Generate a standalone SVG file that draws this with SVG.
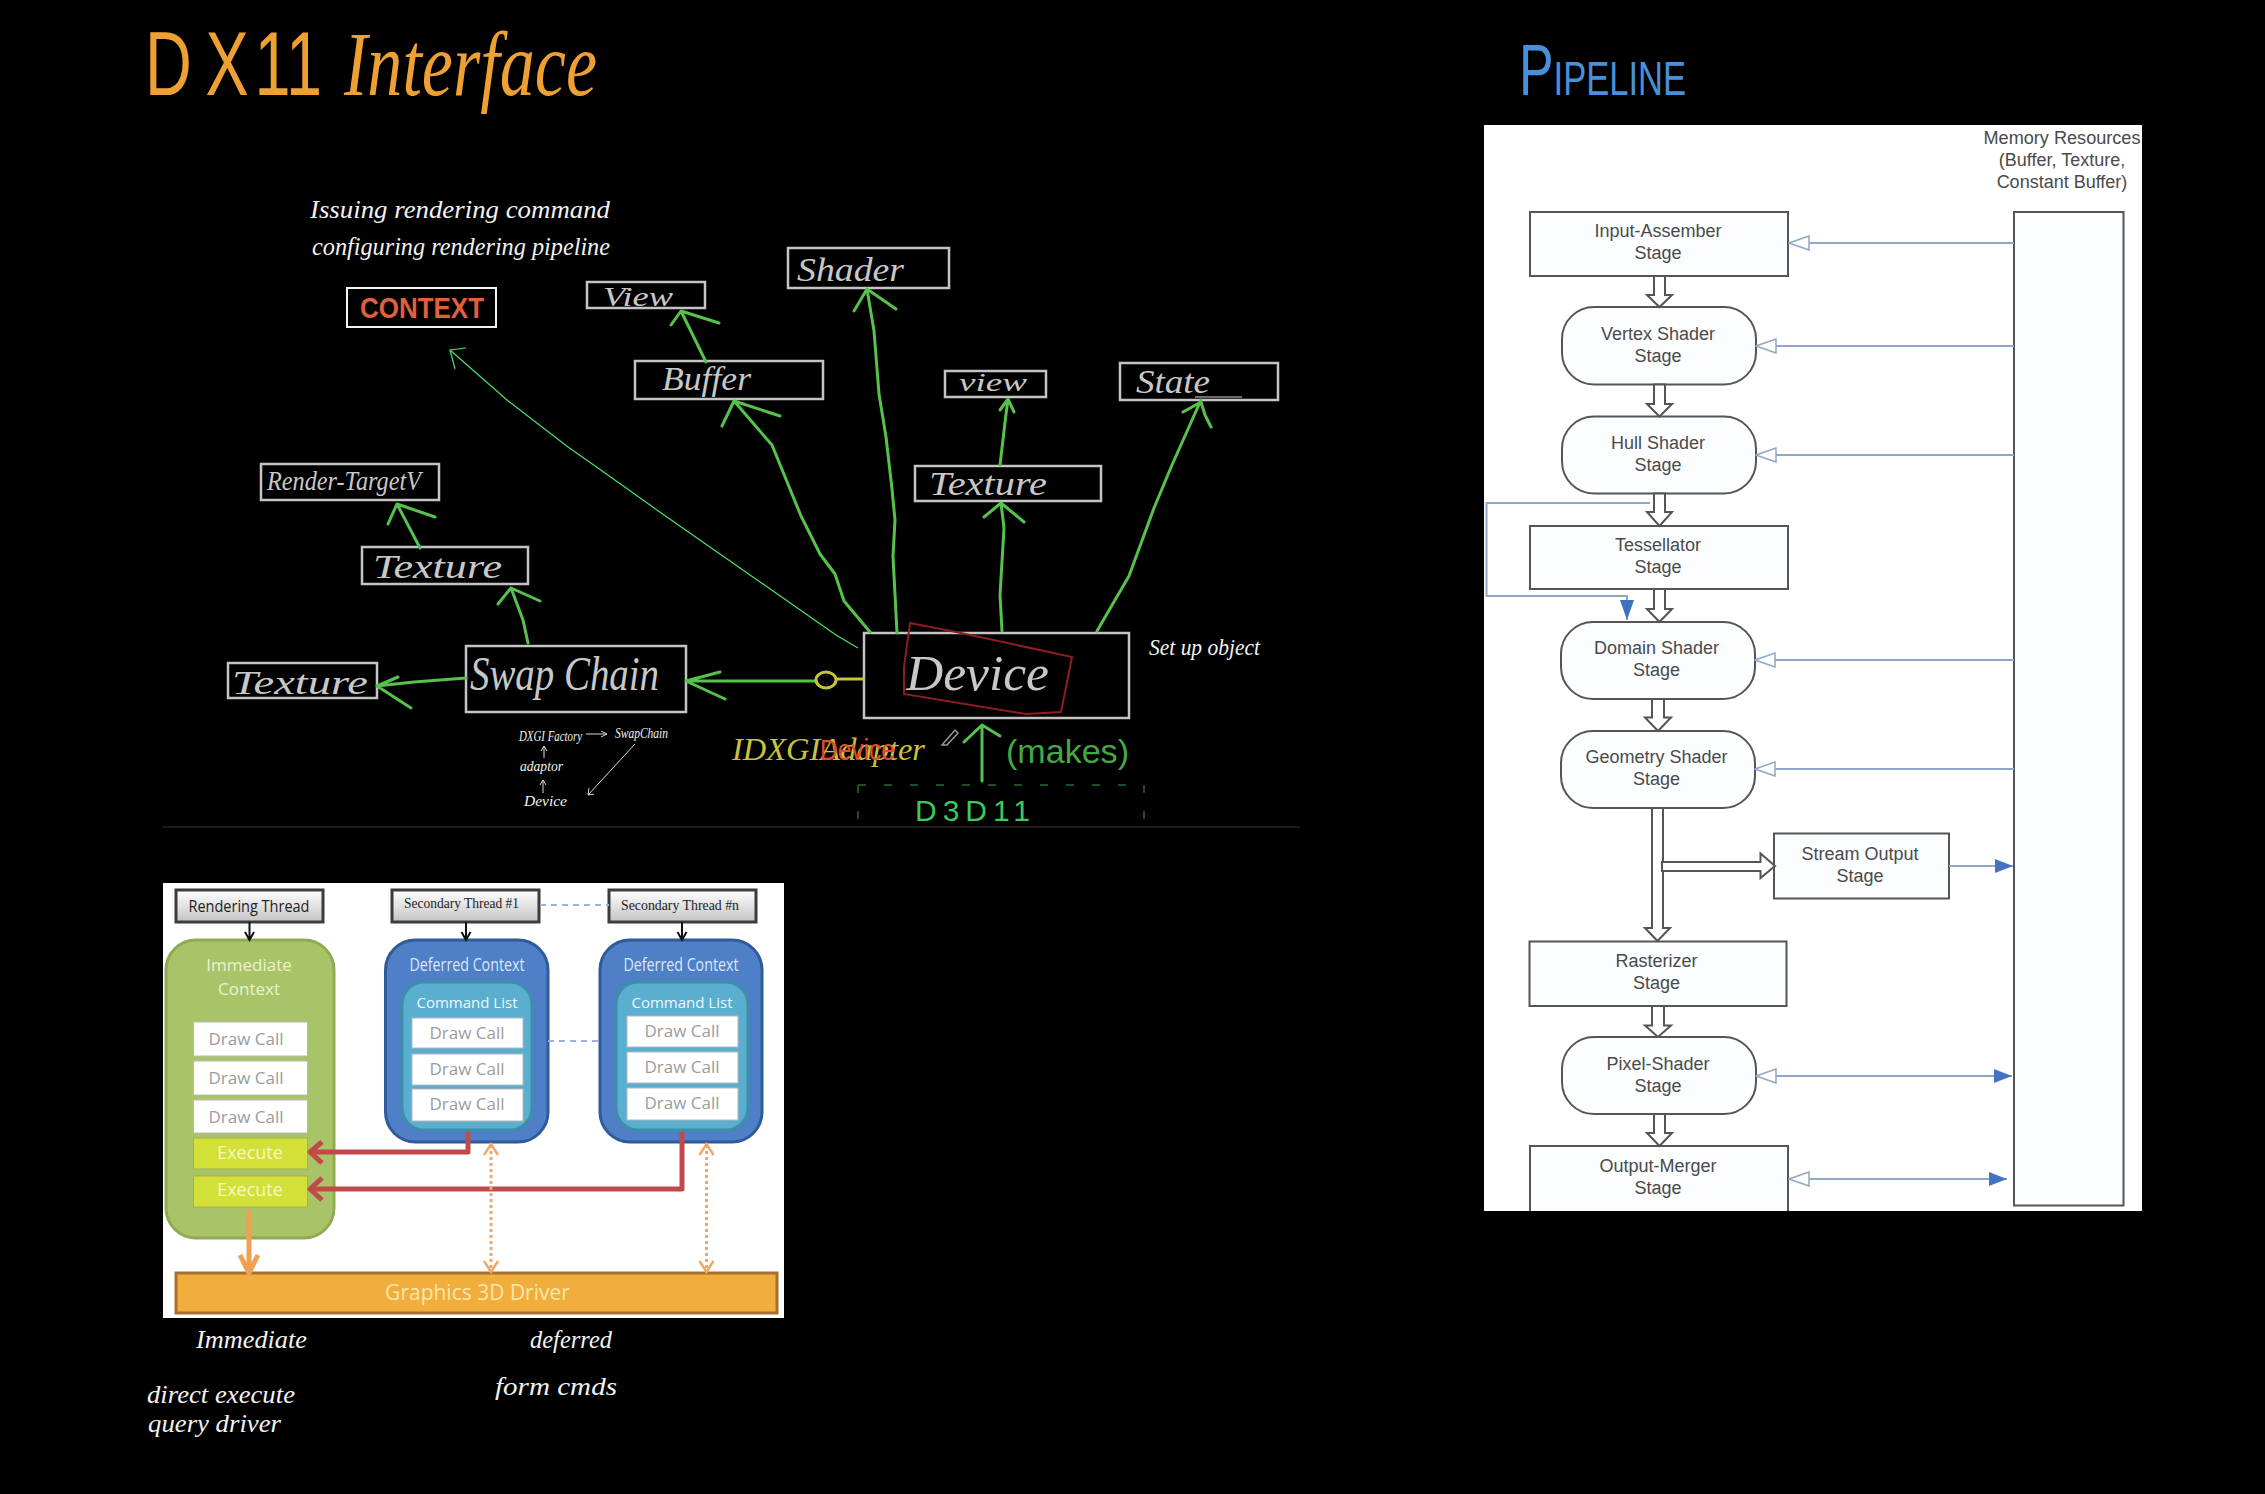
<svg xmlns="http://www.w3.org/2000/svg" width="2265" height="1494" viewBox="0 0 2265 1494">
<style>
.hand{font-family:"Liberation Serif",serif;font-style:italic;fill:#f2f2f2}
.box{fill:none;stroke:#c4c4c4;stroke-width:2.5}
.lbl{font-family:"Liberation Serif",serif;font-style:italic;fill:#c8c8c8}
.grn{fill:none;stroke:#56c24c;stroke-width:3;stroke-linecap:round;stroke-linejoin:round}
.thin{fill:none;stroke:#4fe06a;stroke-width:1.2}
.wl{fill:none;stroke:#d8d8d8;stroke-width:1}
.sans{font-family:"Open Sans","Liberation Sans",sans-serif;text-anchor:middle}
.call{fill:#fff;stroke:#b8b8b8;stroke-width:1}
.callt{fill:#9c9c9c;font-size:17px}
.exec{fill:#d3e038;stroke:#a9b050;stroke-width:1}
.exect{fill:#f5f9c0;font-size:18px}
.thr{fill:url(#thrGrad);stroke:#3c3c3c;stroke-width:3}
.ser{font-family:"Liberation Serif",serif;font-size:15px;fill:#222}
.def{fill:#4f7fc6;stroke:#2f5b99;stroke-width:3}
.inn{fill:#5aaed0;stroke:#3c8fa8;stroke-width:3}
.deft{fill:#dbe7f6;font-size:18px}
.clt{fill:#eef7fb;font-size:15px}
.red{fill:none;stroke:#c04a4a;stroke-width:5;stroke-linejoin:round}
.org{fill:none;stroke:#f0a050;stroke-width:5}
.dot{fill:none;stroke:#f0a868;stroke-width:3;stroke-dasharray:3 3}
.dhead{fill:none;stroke:#f0a868;stroke-width:2.5}
.blk{stroke:#111;stroke-width:2;fill:none}
.dash{stroke:#9ab4de;stroke-width:2;stroke-dasharray:6 5;fill:none}
.st{fill:#fbfdff;stroke:#555;stroke-width:2}
.stt{font-family:"Liberation Sans",sans-serif;font-size:18px;fill:#4a4a4a;text-anchor:middle}
.res{stroke:#8fa8c8;stroke-width:2;fill:none}
.flow{fill:#fff;stroke:#555;stroke-width:2}
</style>
<defs>
<linearGradient id="thrGrad" x1="0" y1="0" x2="0" y2="1"><stop offset="0" stop-color="#fff"/><stop offset="1" stop-color="#c4c4c4"/></linearGradient>
<marker id="hollow" viewBox="-1 -1 22 16" refX="20" refY="7" markerWidth="22" markerHeight="16" orient="auto-start-reverse" markerUnits="userSpaceOnUse"><path d="M0 0L20 7L0 14Z" fill="#fff" stroke="#8fa8c8" stroke-width="1.5"/></marker>
<marker id="solid" viewBox="0 0 18 14" refX="18" refY="7" markerWidth="18" markerHeight="14" orient="auto" markerUnits="userSpaceOnUse"><path d="M0 0L18 7L0 14Z" fill="#4472c4"/></marker>
<marker id="solidDown" viewBox="0 0 20 14" refX="20" refY="7" markerWidth="20" markerHeight="14" orient="auto" markerUnits="userSpaceOnUse"><path d="M0 0L20 7L0 14Z" fill="#3f6fbf"/></marker>
</defs>
<rect width="2265" height="1494" fill="#000"/>

<g id="titles">
<text transform="translate(145 95) scale(.72 1)" x="0 84 152 196" y="0" font-family="'Liberation Sans',sans-serif" font-size="90" fill="#efa032">DX11</text>
<text x="344" y="95" font-family="'Liberation Serif',serif" font-style="italic" font-size="92" fill="#efa032" textLength="253" lengthAdjust="spacingAndGlyphs">Interface</text>
<text x="1519" y="95" font-family="'Liberation Sans',sans-serif" font-size="48" fill="#4a90d9" textLength="167" lengthAdjust="spacingAndGlyphs"><tspan font-size="72">P</tspan>IPELINE</text>
</g>

<g id="context-note">
<text class="hand" x="310" y="218" font-size="26" textLength="300" lengthAdjust="spacingAndGlyphs">Issuing rendering command</text>
<text class="hand" x="312" y="255" font-size="26" textLength="298" lengthAdjust="spacingAndGlyphs">configuring rendering pipeline</text>
</g>
<g id="node-context">
<rect x="347" y="288" width="149" height="39" fill="none" stroke="#f4f4f4" stroke-width="2"/>
<text x="360" y="318" font-family="'Liberation Sans',sans-serif" font-weight="bold" font-size="29" fill="#e0603a" textLength="124" lengthAdjust="spacingAndGlyphs">CONTEXT</text>
</g>
<g id="node-view1"><rect class="box" x="587" y="282" width="118" height="26"/><text class="lbl" x="603" y="306" font-size="28" textLength="70" lengthAdjust="spacingAndGlyphs">View</text></g>
<g id="node-buffer"><rect class="box" x="635" y="361" width="188" height="38"/><text class="lbl" x="662" y="390" font-size="34" textLength="89" lengthAdjust="spacingAndGlyphs">Buffer</text></g>
<g id="node-shader"><rect class="box" x="788" y="248" width="161" height="40"/><text class="lbl" x="797" y="281" font-size="34" textLength="107" lengthAdjust="spacingAndGlyphs">Shader</text></g>
<g id="node-view2"><rect class="box" x="945" y="371" width="101" height="26"/><text class="lbl" x="959" y="391" font-size="26" textLength="68" lengthAdjust="spacingAndGlyphs">view</text></g>
<g id="node-texture-right"><rect class="box" x="915" y="466" width="186" height="35"/><text class="lbl" x="929" y="495" font-size="33" textLength="118" lengthAdjust="spacingAndGlyphs">Texture</text></g>
<g id="node-state"><rect class="box" x="1120" y="363" width="158" height="37"/><text class="lbl" x="1136" y="393" font-size="34" textLength="74" lengthAdjust="spacingAndGlyphs">State</text><path class="wl" d="M1195 397H1242" stroke-width="2"/></g>
<g id="node-render-target"><rect class="box" x="261" y="464" width="178" height="36"/><text class="lbl" x="267" y="490" font-size="28" textLength="154" lengthAdjust="spacingAndGlyphs">Render-TargetV</text></g>
<g id="node-texture-mid"><rect class="box" x="362" y="547" width="166" height="37"/><text class="lbl" x="373" y="578" font-size="34" textLength="129" lengthAdjust="spacingAndGlyphs">Texture</text></g>
<g id="node-texture-left"><rect class="box" x="228" y="663" width="149" height="35"/><text class="lbl" x="232" y="694" font-size="34" textLength="136" lengthAdjust="spacingAndGlyphs">Texture</text></g>
<g id="node-swapchain"><rect class="box" x="466" y="646" width="220" height="66"/><text class="lbl" x="470" y="690" font-size="48" textLength="189" lengthAdjust="spacingAndGlyphs">Swap Chain</text></g>
<g id="node-device">
<rect class="box" x="864" y="633" width="265" height="85"/>
<path d="M910 623L961 633L1072 657L1061 712L1026 714L904 694L904 667Z" fill="none" stroke="#8b1f1f" stroke-width="2"/>
<text class="lbl" x="906" y="690" font-size="50" textLength="143" lengthAdjust="spacingAndGlyphs">Device</text>
</g>
<g id="note-setup"><text class="hand" x="1149" y="655" font-size="24" textLength="111" lengthAdjust="spacingAndGlyphs">Set up object</text></g>
<g id="note-factory" class="hand">
<text class="hand" x="519" y="741" font-size="14" textLength="63" lengthAdjust="spacingAndGlyphs">DXGI Factory</text>
<text class="hand" x="615" y="738" font-size="14" textLength="53" lengthAdjust="spacingAndGlyphs">SwapChain</text>
<text class="hand" x="520" y="771" font-size="14" textLength="43" lengthAdjust="spacingAndGlyphs">adaptor</text>
<text class="hand" x="524" y="806" font-size="15" textLength="43" lengthAdjust="spacingAndGlyphs">Device</text>
</g>
<g id="node-adapter">
<text x="732" y="760" font-family="'Liberation Serif',serif" font-style="italic" font-size="32" fill="#c9c33c" textLength="193" lengthAdjust="spacingAndGlyphs">IDXGIAdapter</text>
<text x="820" y="760" font-family="'Liberation Sans',sans-serif" font-size="29" fill="#e04a30" textLength="75" lengthAdjust="spacingAndGlyphs">Device</text>
<path d="M942 745L955 730L958 733L947 745Z" fill="none" stroke="#999" stroke-width="1.5"/>
</g>
<g id="note-makes"><text x="1006" y="763" font-family="'Liberation Sans',sans-serif" font-size="34" fill="#44a844" textLength="123" lengthAdjust="spacingAndGlyphs">(makes)</text></g>
<g id="node-d3d11">
<path d="M858 785H1144M858 785V825M1144 785V825" fill="none" stroke="#2c6a30" stroke-width="1.5" stroke-dasharray="8 18"/>
<text x="915" y="821" font-family="'Liberation Sans',sans-serif" font-size="30" fill="#3ec95a" textLength="115" lengthAdjust="spacing">D3D11</text>
</g>
<path d="M163 827H1300" stroke="#222" stroke-width="1.5"/>

<g id="panel-threads">
<rect x="163" y="883" width="621" height="435" fill="#fff"/>
<g id="node-rendering-thread"><rect class="thr" x="176" y="890" width="147" height="32"/><text class="sans" x="249" y="912" font-size="16" fill="#222" textLength="121" lengthAdjust="spacingAndGlyphs">Rendering Thread</text></g>
<g id="node-secondary-1"><rect class="thr" x="392" y="890" width="147" height="32"/><text class="ser" x="404" y="908" textLength="115" lengthAdjust="spacingAndGlyphs">Secondary Thread #1</text></g>
<g id="node-secondary-n"><rect class="thr" x="609" y="890" width="147" height="32"/><text class="ser" x="621" y="910" textLength="118" lengthAdjust="spacingAndGlyphs">Secondary Thread #n</text></g>
<g id="node-immediate">
<rect x="166" y="940" width="168" height="298" rx="30" fill="#a9c468" stroke="#8faa50" stroke-width="3"/>
<text class="sans" x="249" y="971" font-size="17" fill="#eaf2d0">Immediate</text>
<text class="sans" x="249" y="995" font-size="17" fill="#eaf2d0">Context</text>
<rect class="call" x="193.500" y="1022" width="114" height="34"/><text class="sans callt" x="246" y="1045">Draw Call</text>
<rect class="call" x="193.500" y="1061" width="114" height="34"/><text class="sans callt" x="246" y="1084">Draw Call</text>
<rect class="call" x="193.500" y="1100" width="114" height="33"/><text class="sans callt" x="246" y="1123">Draw Call</text>
<rect class="exec" x="193.500" y="1138" width="114" height="31"/><text class="sans exect" x="250" y="1159">Execute</text>
<rect class="exec" x="193.500" y="1176" width="114" height="31"/><text class="sans exect" x="250" y="1196">Execute</text>
</g>
<g id="node-deferred-1">
<rect class="def" x="385.500" y="940" width="162.500" height="202" rx="30"/>
<text class="sans deft" x="467" y="971" textLength="115" lengthAdjust="spacingAndGlyphs">Deferred Context</text>
<rect class="inn" x="402" y="982" width="130" height="148" rx="22"/>
<text class="sans clt" x="467" y="1008">Command List</text>
<rect class="call" x="412" y="1018" width="111" height="30"/><text class="sans callt" x="467" y="1039">Draw Call</text>
<rect class="call" x="412" y="1054" width="111" height="31"/><text class="sans callt" x="467" y="1075">Draw Call</text>
<rect class="call" x="412" y="1089" width="111" height="32"/><text class="sans callt" x="467" y="1110">Draw Call</text>
</g>
<g id="node-deferred-n">
<rect class="def" x="600" y="940" width="162" height="202" rx="30"/>
<text class="sans deft" x="681" y="971" textLength="115" lengthAdjust="spacingAndGlyphs">Deferred Context</text>
<rect class="inn" x="616" y="982" width="132" height="148" rx="22"/>
<text class="sans clt" x="682" y="1008">Command List</text>
<rect class="call" x="627" y="1016" width="111" height="31"/><text class="sans callt" x="682" y="1037">Draw Call</text>
<rect class="call" x="627" y="1052" width="111" height="31"/><text class="sans callt" x="682" y="1073">Draw Call</text>
<rect class="call" x="627" y="1088" width="111" height="32"/><text class="sans callt" x="682" y="1109">Draw Call</text>
</g>
<g id="node-driver">
<rect x="176" y="1273" width="601" height="40" fill="#f2ae3c" stroke="#a87030" stroke-width="3"/>
<text class="sans" x="477.500" y="1300" font-size="21" fill="#fbe6ae">Graphics 3D Driver</text>
</g>
</g>

<g id="notes-bottom">
<text class="hand" x="196" y="1348" font-size="26" textLength="111" lengthAdjust="spacingAndGlyphs">Immediate</text>
<text class="hand" x="530" y="1348" font-size="26" textLength="82" lengthAdjust="spacingAndGlyphs">deferred</text>
<text class="hand" x="495" y="1395" font-size="26" textLength="122" lengthAdjust="spacingAndGlyphs">form cmds</text>
<text class="hand" x="147" y="1403" font-size="26" textLength="148" lengthAdjust="spacingAndGlyphs">direct execute</text>
<text class="hand" x="148" y="1432" font-size="26" textLength="133" lengthAdjust="spacingAndGlyphs">query driver</text>
</g>

<g id="panel-pipeline">
<rect x="1484" y="125" width="658" height="1086" fill="#fff"/>
<text class="stt" x="2062" y="144" fill="#555" textLength="157" lengthAdjust="spacingAndGlyphs">Memory Resources</text>
<text class="stt" x="2062" y="166">(Buffer, Texture,</text>
<text class="stt" x="2062" y="188">Constant Buffer)</text>
<g id="node-memory"><rect class="st" x="2014" y="212" width="109.500" height="993.500"/></g>
<g id="node-input"><rect class="st" x="1530" y="212" width="258" height="64"/><text class="stt" x="1658" y="237">Input-Assember</text><text class="stt" x="1658" y="259">Stage</text></g>
<g id="node-vertex"><rect class="st" x="1562" y="307" width="194" height="77.500" rx="32"/><text class="stt" x="1658" y="340">Vertex Shader</text><text class="stt" x="1658" y="362">Stage</text></g>
<g id="node-hull"><rect class="st" x="1562" y="416.500" width="194" height="77" rx="32"/><text class="stt" x="1658" y="449">Hull Shader</text><text class="stt" x="1658" y="471">Stage</text></g>
<g id="node-tess"><rect class="st" x="1530" y="526" width="258" height="63"/><text class="stt" x="1658" y="551">Tessellator</text><text class="stt" x="1658" y="573">Stage</text></g>
<g id="node-domain"><rect class="st" x="1561" y="622" width="194" height="77" rx="32"/><text class="stt" x="1656.500" y="654">Domain Shader</text><text class="stt" x="1656.500" y="676">Stage</text></g>
<g id="node-geometry"><rect class="st" x="1561" y="731" width="194" height="77" rx="32"/><text class="stt" x="1656.500" y="763">Geometry Shader</text><text class="stt" x="1656.500" y="785">Stage</text></g>
<g id="node-stream"><rect class="st" x="1774" y="833.500" width="175" height="65"/><text class="stt" x="1860" y="860">Stream Output</text><text class="stt" x="1860" y="882">Stage</text></g>
<g id="node-raster"><rect class="st" x="1529.500" y="941.500" width="257" height="64.500"/><text class="stt" x="1656.500" y="967">Rasterizer</text><text class="stt" x="1656.500" y="989">Stage</text></g>
<g id="node-pixel"><rect class="st" x="1562" y="1037" width="194" height="77" rx="32"/><text class="stt" x="1658" y="1070">Pixel-Shader</text><text class="stt" x="1658" y="1092">Stage</text></g>
<g id="node-output"><path class="st" d="M1530 1211V1146H1788V1211"/><text class="stt" x="1658" y="1172">Output-Merger</text><text class="stt" x="1658" y="1194">Stage</text></g>
</g>

<g id="connectors">
<path class="thin" d="M858 648L836 635L740 568L664 515L598 468L568 447L507 400L450 350M466 348L450 350L455 369"/>
<path class="grn" d="M706 362L681 311M671 325L681 311L719 323"/>
<path class="grn" d="M870 632L844 601L835 574L820 554L801 516L772 445L734 401M722 426L734 401L780 416"/>
<path class="grn" d="M897 633L893 556L895 520L892 489L886 437L879 394L874 331L867 289M854 311L867 289L896 309"/>
<path class="grn" d="M1000 465L1006 414L1008 399M1000 410L1008 399L1014 412"/>
<path class="grn" d="M1002 631L1000 595L1004 528L1001 503M984 517L1001 503L1024 522"/>
<path class="grn" d="M1097 631L1129 576L1154 508L1172 465L1201 400M1183 412L1201 402L1205 415L1211 427"/>
<path class="grn" d="M528 643L523 620L511 588M498 604L511 588L540 601"/>
<path class="grn" d="M420 548L397 504M388 524L397 504L435 517"/>
<path class="grn" d="M466 678L414 682L377 686M398 677L377 686L411 708"/>
<path class="grn" d="M816 681H686M720 672L686 681L725 699"/>
<path d="M836 679H865" stroke="#c9c33c" stroke-width="3" fill="none"/>
<ellipse cx="826" cy="680" rx="10" ry="8" fill="none" stroke="#c9c33c" stroke-width="3"/>
<path class="grn" d="M982 781V725M964 742L982 725L1000 736" stroke="#3fa83f"/>
<path class="wl" d="M586 734H607M601 731L607 734L601 737M544 758V746M541 751L544 746L547 751M543 793V780M540 785L543 780L546 785M635 744L588 795M589 788L588 795L594 794"/>

<path class="blk" d="M249.500 922V938M245 932L249.500 940L254 932"/>
<path class="blk" d="M466 922V938M461.500 932L466 940L470.500 932"/>
<path class="blk" d="M682 922V938M677.500 932L682 940L686.500 932"/>
<path class="dash" d="M540 905H609"/>
<path class="dash" d="M548 1041H600"/>
<path class="red" d="M468 1132V1152H310M322 1142L310 1152L322 1163"/>
<path class="red" d="M682 1132V1189H310M322 1178L310 1189L322 1200"/>
<path class="org" d="M249 1210V1273M240 1255L249 1273L258 1255"/>
<path class="dot" d="M491 1145V1271"/>
<path class="dhead" d="M484 1155L491 1144L498 1155M484 1261L491 1272L498 1261"/>
<path class="dot" d="M706.500 1145V1271"/>
<path class="dhead" d="M699.500 1155L706.500 1144L713.500 1155M699.500 1261L706.500 1272L713.500 1261"/>

<path class="flow" d="M1654 276V295H1647L1659.500 307L1672 295H1665V276Z"/>
<path class="flow" d="M1654 384.500V404H1647L1659.500 416.500L1672 404H1665V384.500Z"/>
<path class="flow" d="M1654 493.500V512H1647L1659.500 526L1672 512H1665V493.500Z"/>
<path class="flow" d="M1654 589V609H1647L1659.500 622L1672 609H1665V589Z"/>
<path class="flow" d="M1652 699V717.500H1645L1658 731L1671 717.500H1664V699Z"/>
<path class="flow" d="M1652 808V928H1645L1657.500 941L1670 928H1663V808Z"/>
<path class="flow" d="M1652 1006V1025.500H1645L1658 1037L1671 1025.500H1664V1006Z"/>
<path class="flow" d="M1654 1114V1133H1647L1659.500 1146L1672 1133H1665V1114Z"/>
<path class="flow" d="M1662 862H1760.500V853.500L1775 866L1760.500 878V871H1662Z"/>

<path class="res" d="M2014 243H1789" marker-end="url(#hollow)"/>
<path class="res" d="M2014 346H1756" marker-end="url(#hollow)"/>
<path class="res" d="M2014 455H1756" marker-end="url(#hollow)"/>
<path class="res" d="M2014 660H1755" marker-end="url(#hollow)"/>
<path class="res" d="M2014 769H1755" marker-end="url(#hollow)"/>
<path class="res" d="M1949 866H2013" marker-end="url(#solid)"/>
<path class="res" d="M1756 1076H2012" marker-start="url(#hollow)" marker-end="url(#solid)"/>
<path class="res" d="M1789 1179H2007" marker-start="url(#hollow)" marker-end="url(#solid)"/>
<path class="res" d="M1650 503H1486.500V596H1627V620" marker-end="url(#solidDown)"/>
</g>
</svg>
